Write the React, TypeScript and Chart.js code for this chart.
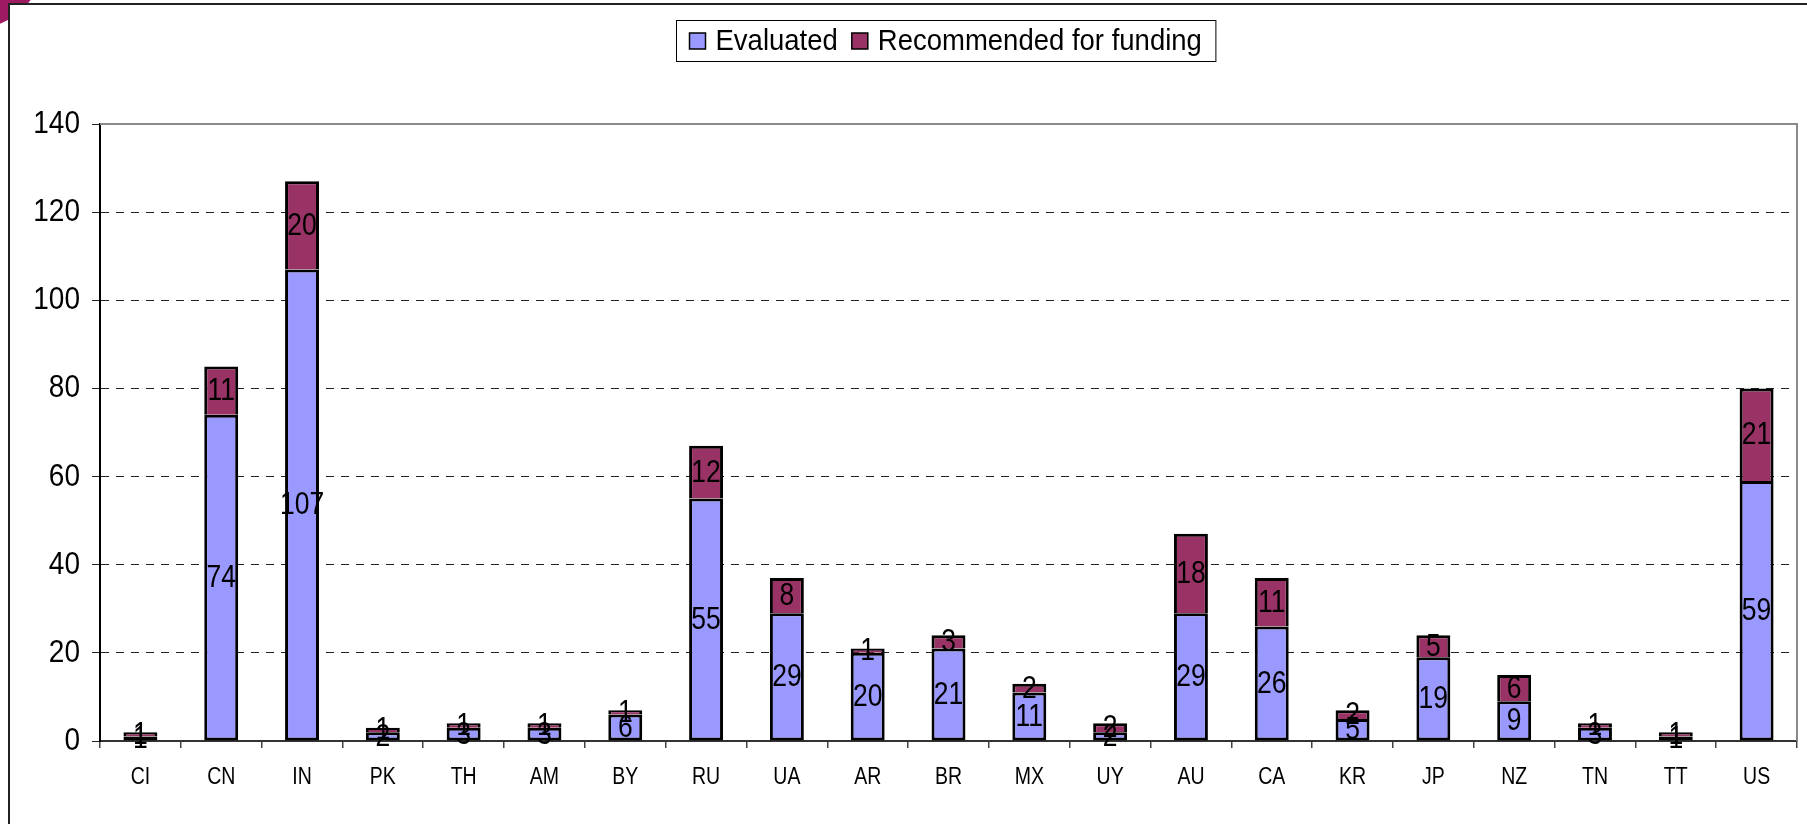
import React, { useEffect, useRef } from "react";
import { Chart, registerables } from "chart.js";

Chart.register(...registerables);

const categories = ["CI", "CN", "IN", "PK", "TH", "AM", "BY", "RU", "UA", "AR", "BR", "MX", "UY", "AU", "CA", "KR", "JP", "NZ", "TN", "TT", "US"];
const evaluated = [1, 74, 107, 2, 3, 3, 6, 55, 29, 20, 21, 11, 2, 29, 26, 5, 19, 9, 3, 1, 59];
const recommended = [1, 11, 20, 1, 1, 1, 1, 12, 8, 1, 3, 2, 2, 18, 11, 2, 5, 6, 1, 1, 21];
const yTicks = [0, 20, 40, 60, 80, 100, 120, 140];
const seriesNames = ["Evaluated", "Recommended for funding"];
const seriesColors = ["#9999FF", "#993366"];

const FONT = "'Liberation Sans', Arial, sans-serif";

function stretchedText(ctx: any, text: string, x: number, y: number, size: number, sy: number, align: string) {
  ctx.save();
  ctx.translate(x, y);
  ctx.scale(1, sy);
  ctx.font = `${size}px ${FONT}`;
  ctx.textAlign = align;
  ctx.textBaseline = "middle";
  ctx.fillStyle = "#000";
  ctx.fillText(text, 0, 0);
  ctx.restore();
}

const segLabelsPlugin = {
  id: "segLabels",
  afterDatasetsDraw(chart: any) {
    const ctx = chart.ctx;
    chart.data.datasets.forEach((ds: any, di: number) => {
      const meta = chart.getDatasetMeta(di);
      meta.data.forEach((el: any, i: number) => {
        const p = el.getProps(["x", "y", "base"], true);
        stretchedText(ctx, String(ds.data[i]), p.x, (p.y + p.base) / 2 + 1, 26.5, 1.15, "center");
      });
    });
  },
};

const axisLabelsPlugin = {
  id: "axisLabels",
  afterDraw(chart: any) {
    const ctx = chart.ctx;
    const ys = chart.scales.y;
    const xs = chart.scales.x;
    yTicks.forEach((v) => {
      stretchedText(ctx, String(v), ys.right - 20, ys.getPixelForValue(v) + 0.5, 28, 1.1, "right");
    });
    categories.forEach((c, i) => {
      stretchedText(ctx, c, xs.getPixelForTick(i), xs.top + 36, 19.5, 1.22, "center");
    });
  },
};

const frameLegendPlugin = {
  id: "frameLegend",
  afterDraw(chart: any) {
    const ctx = chart.ctx;
    const a = chart.chartArea;
    ctx.save();
    ctx.strokeStyle = "#8a8a8a";
    ctx.lineWidth = 2;
    ctx.beginPath();
    ctx.moveTo(a.left, a.top);
    ctx.lineTo(a.right, a.top);
    ctx.lineTo(a.right, a.bottom);
    ctx.stroke();

    ctx.font = `27.5px ${FONT}`;
    const w1 = ctx.measureText(seriesNames[0]).width;
    const w2 = ctx.measureText(seriesNames[1]).width;
    const padL = 13, sq = 16, gapT = 10, gapItem = 14, padR = 14;
    const total = padL + sq + gapT + w1 + gapItem + sq + gapT + w2 + padR;
    const cx = (a.left + a.right) / 2 - 3;
    const bx = Math.round(cx - total / 2) + 0.5;
    const by = 20.5, bh = 41;
    ctx.fillStyle = "#fff";
    ctx.fillRect(bx, by, total, bh);
    ctx.strokeStyle = "#000";
    ctx.lineWidth = 1;
    ctx.strokeRect(bx, by, total, bh);
    const cy = by + bh / 2;
    let x = bx + padL;
    [w1, w2].forEach((w, i) => {
      ctx.fillStyle = seriesColors[i];
      ctx.fillRect(x, cy - sq / 2, sq, sq);
      ctx.strokeStyle = "#000";
      ctx.lineWidth = 1.5;
      ctx.strokeRect(x, cy - sq / 2, sq, sq);
      x += sq + gapT;
      stretchedText(ctx, seriesNames[i], x, cy + 1, 27.5, 1.05, "left");
      x += w + gapItem;
    });
    ctx.restore();
  },
};

export default function App() {
  const ref = useRef<HTMLCanvasElement | null>(null);

  useEffect(() => {
    if (!ref.current) return;
    const mkDs = (i: number, data: number[], skip: any) => ({
      label: seriesNames[i],
      data,
      backgroundColor: seriesColors[i],
      borderColor: "#000",
      borderWidth: 3,
      borderSkipped: skip,
      inflateAmount: 0,
      barPercentage: 0.42,
      categoryPercentage: 1,
    });
    const chart = new Chart(ref.current, {
      type: "bar",
      data: {
        labels: categories,
        datasets: [mkDs(0, evaluated, false), mkDs(1, recommended, "bottom")],
      },
      options: {
        animation: false,
        responsive: false,
        devicePixelRatio: 1,
        events: [],
        layout: { padding: { top: 124, right: 10, left: 0, bottom: 0 } },
        plugins: {
          legend: { display: false },
          tooltip: { enabled: false },
          title: { display: false },
        },
        scales: {
          x: {
            stacked: true,
            offset: true,
            grid: {
              display: true,
              drawOnChartArea: false,
              drawTicks: true,
              tickLength: 7,
              offset: true,
              color: "#444",
              tickColor: "#444",
              lineWidth: 1.5,
            },
            border: { display: true, color: "#333", width: 2 },
            ticks: { display: false },
            afterFit: (s: any) => {
              s.height = 83;
            },
          },
          y: {
            stacked: true,
            min: yTicks[0],
            max: yTicks[yTicks.length - 1],
            afterBuildTicks: (s: any) => {
              s.ticks = yTicks.map((v) => ({ value: v }));
            },
            ticks: { display: false },
            grid: {
              color: (c: any) =>
                c.tick && (c.tick.value === yTicks[0] || c.tick.value === yTicks[yTicks.length - 1])
                  ? "rgba(0,0,0,0)"
                  : "#222",
              tickColor: "#222",
              tickLength: 8,
              lineWidth: 1,
              tickBorderDash: [],
              drawTicks: true,
            },
            border: { display: true, color: "#000", width: 2, dash: [8, 7] },
            afterFit: (s: any) => {
              s.width = 100;
            },
          },
        },
      },
      plugins: [segLabelsPlugin, axisLabelsPlugin, frameLegendPlugin],
    } as any);
    return () => chart.destroy();
  }, []);

  return (
    <div
      style={{
        position: "absolute",
        left: 0,
        top: 0,
        width: 1807,
        height: 824,
        overflow: "hidden",
        background: "#fff",
      }}
    >
      <div
        style={{
          position: "absolute",
          left: -90,
          top: -100,
          width: 132,
          height: 128,
          borderRadius: "50%",
          background: "#9E1A62",
        }}
      />
      <div
        style={{
          position: "absolute",
          left: 8,
          top: 3,
          width: 1900,
          height: 1000,
          border: "2px solid #222",
          background: "#fff",
        }}
      />
      <canvas
        ref={ref}
        width={1807}
        height={824}
        style={{ position: "absolute", left: 0, top: 0, width: 1807, height: 824 }}
      />
    </div>
  );
}
